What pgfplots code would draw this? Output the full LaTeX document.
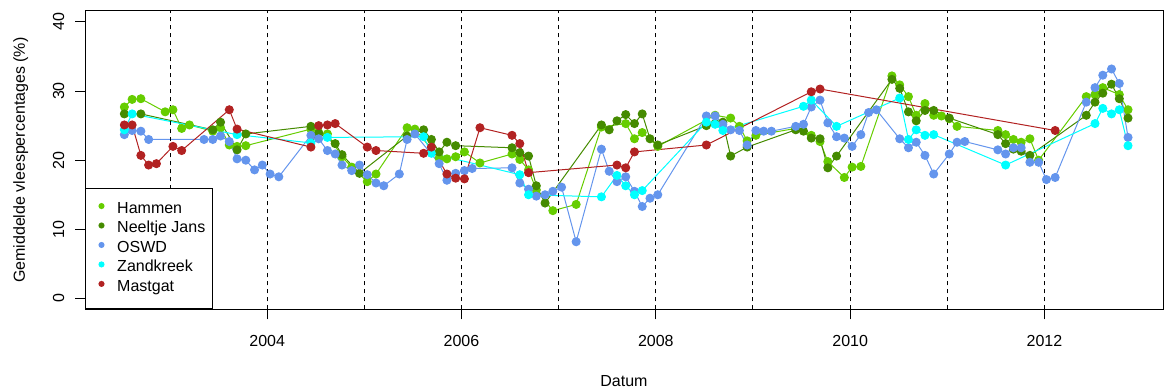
\documentclass[border=0pt]{standalone}
\usepackage{fontspec}
\setmainfont{Liberation Sans}
\usepackage{pgfplots}
\pgfplotsset{compat=1.18}
\definecolor{hammen}{RGB}{102,205,0}
\definecolor{neeltje}{RGB}{69,139,0}
\definecolor{oswd}{RGB}{100,149,237}
\definecolor{zandkreek}{RGB}{0,255,255}
\definecolor{mastgat}{RGB}{178,34,34}
\pgfplotsset{dotlegend/.style={legend image code/.code={%
  \path[draw=none, fill=none] (-6.5pt,0pt) -- (2.3pt,0pt);
  \fill[##1, draw=none] (0pt,2.8pt) circle[radius=2.3pt];}}}
\begin{document}
\fontsize{12}{14.4}\selectfont
\begin{tikzpicture}
\begin{axis}[
  at={(0,0)}, anchor=south west,
  scale only axis, width=808.5pt, height=223.9pt,
  xmin=2002.125, xmax=2013.22, ymin=-1.6, ymax=41.6,
  xtick={2004,2006,2008,2010,2012},
  xticklabels={2004,2006,2008,2010,2012},
  ytick={0,10,20,30,40},
  yticklabels={},
  xtick pos=bottom, ytick pos=left, tick align=outside,
  major tick length=7.5pt,
  tick style={black, line width=0.75pt},
  axis line style={black, line width=0.75pt},
  /pgf/number format/assume math mode=true,
  ticklabel style={font=\fontsize{12}{14.4}\selectfont},
  xticklabel style={anchor=base, inner sep=0pt, yshift=-20.1pt},
  legend cell align=left,
  legend style={at={(0,0)}, anchor=south west, draw=black, line width=0.75pt,
    fill=white, inner xsep=5.5pt, inner ysep=8.7pt, row sep=0pt,
    font=\fontsize{12}{14.4}\selectfont,
    nodes={inner sep=0pt, text height=10pt, text depth=4.6pt},
    /tikz/every odd column/.append style={column sep=9.5pt}},
  dotlegend,
  every axis plot/.append style={line width=0.75pt, mark=*, mark size=3pt},
]
\addplot[color=hammen, dotlegend] table {
2002.53 27.7
2002.61 28.8
2002.70 28.9
2002.95 27.0
2003.03 27.3
2003.12 24.6
2003.20 25.1
2003.44 24.2
2003.52 24.7
2003.61 22.2
2003.69 22.0
2003.78 22.1
2004.45 24.5
2004.53 24.0
2004.62 23.8
2004.77 20.5
2004.87 19.0
2005.03 16.9
2005.12 18.0
2005.44 24.7
2005.52 24.5
2005.77 20.3
2005.85 20.2
2005.94 20.5
2006.03 21.2
2006.19 19.6
2006.52 20.9
2006.60 20.1
2006.69 18.6
2006.77 15.7
2006.94 12.7
2007.18 13.6
2007.44 24.8
2007.69 25.3
2007.78 23.1
2007.86 24.0
2008.02 22.0
2008.61 26.5
2008.77 26.1
2008.86 24.9
2008.94 22.8
2009.03 23.6
2009.44 24.6
2009.60 23.6
2009.69 22.7
2009.77 19.8
2009.94 17.5
2010.02 19.0
2010.11 19.1
2010.43 32.2
2010.51 30.9
2010.60 29.2
2010.68 26.5
2010.77 28.2
2010.86 26.5
2010.94 26.4
2011.02 26.0
2011.10 24.9
2011.52 24.3
2011.60 23.7
2011.68 23.0
2011.76 22.6
2011.85 23.1
2011.94 20.0
2012.43 29.2
2012.52 29.5
2012.60 30.5
2012.77 29.5
2012.86 27.3
};
\addlegendentry{Hammen}
\addplot[color=neeltje, dotlegend] table {
2002.53 26.7
2002.70 26.7
2003.44 24.4
2003.52 25.5
2003.69 21.5
2003.78 23.8
2004.45 24.9
2004.53 23.9
2004.70 22.4
2004.77 20.8
2004.95 18.1
2005.44 23.5
2005.61 24.4
2005.69 23.0
2005.77 21.2
2005.85 22.6
2005.94 22.1
2006.52 21.8
2006.60 21.1
2006.69 20.6
2006.77 16.3
2006.86 13.8
2007.44 25.1
2007.52 24.4
2007.60 25.7
2007.69 26.6
2007.78 25.3
2007.86 26.7
2007.94 23.1
2008.02 22.2
2008.52 25.0
2008.61 25.3
2008.69 25.5
2008.77 20.6
2008.94 21.9
2009.44 24.4
2009.52 24.2
2009.60 23.2
2009.69 23.1
2009.77 18.9
2009.86 20.6
2010.43 31.7
2010.51 30.4
2010.60 27.0
2010.68 25.7
2010.77 27.2
2010.86 27.2
2011.02 26.1
2011.52 23.7
2011.60 22.4
2011.68 21.6
2011.76 21.3
2011.85 20.7
2012.43 26.5
2012.52 28.4
2012.60 29.7
2012.69 31.0
2012.77 28.9
2012.86 26.1
};
\addlegendentry{Neeltje Jans}
\addplot[color=oswd, dotlegend] table {
2002.53 23.7
2002.61 24.3
2002.70 24.2
2002.78 23.0
2003.35 23.0
2003.44 23.0
2003.52 23.5
2003.61 22.7
2003.69 20.2
2003.78 20.0
2003.87 18.6
2003.95 19.3
2004.03 18.0
2004.12 17.6
2004.45 23.6
2004.53 23.1
2004.62 21.4
2004.70 20.9
2004.77 19.3
2004.87 18.5
2004.95 19.3
2005.03 17.9
2005.12 16.7
2005.20 16.3
2005.36 18.0
2005.44 23.0
2005.52 23.8
2005.77 19.5
2005.85 17.1
2005.94 18.1
2006.03 18.5
2006.11 18.8
2006.52 18.9
2006.60 16.7
2006.69 15.8
2006.77 14.8
2006.86 15.0
2006.94 15.5
2007.03 16.1
2007.18 8.2
2007.44 21.6
2007.52 18.4
2007.60 16.9
2007.69 17.6
2007.78 15.5
2007.86 13.3
2007.94 14.5
2008.02 15.0
2008.52 26.4
2008.61 26.4
2008.69 25.2
2008.77 24.4
2008.86 24.3
2008.94 22.2
2009.03 24.3
2009.11 24.2
2009.19 24.2
2009.44 24.9
2009.52 25.2
2009.60 27.7
2009.69 28.7
2009.77 25.4
2009.86 23.4
2009.94 23.2
2010.02 22.0
2010.11 23.7
2010.19 26.9
2010.27 27.3
2010.51 23.1
2010.60 21.8
2010.68 22.6
2010.77 20.7
2010.86 18.0
2011.02 20.9
2011.10 22.6
2011.18 22.7
2011.52 21.5
2011.60 20.9
2011.68 21.8
2011.76 21.8
2011.85 19.7
2011.94 19.7
2012.02 17.2
2012.11 17.5
2012.43 28.4
2012.52 30.5
2012.60 32.3
2012.69 33.2
2012.77 31.1
2012.86 23.3
};
\addlegendentry{OSWD}
\addplot[color=zandkreek, dotlegend] table {
2002.53 24.4
2002.61 26.7
2003.69 23.7
2004.45 22.5
2004.62 23.3
2005.61 23.4
2005.69 21.0
2006.60 17.9
2006.69 15.0
2007.44 14.7
2007.60 17.8
2007.69 16.3
2007.78 15.0
2007.86 15.6
2008.52 25.5
2008.61 25.2
2008.69 24.3
2009.52 27.8
2009.60 28.7
2009.86 24.9
2010.51 29.0
2010.60 23.0
2010.68 24.4
2010.77 23.6
2010.86 23.7
2011.60 19.3
2012.52 25.3
2012.60 27.5
2012.69 26.7
2012.77 27.3
2012.86 22.1
};
\addlegendentry{Zandkreek}
\addplot[color=mastgat, dotlegend] table {
2002.53 25.1
2002.61 25.1
2002.70 20.7
2002.78 19.3
2002.86 19.5
2003.03 22.0
2003.12 21.4
2003.61 27.3
2003.69 24.5
2004.45 21.9
2004.53 25.0
2004.62 25.1
2004.70 25.3
2005.03 21.9
2005.12 21.4
2005.61 21.0
2005.69 21.9
2005.85 18.0
2005.94 17.4
2006.03 17.3
2006.19 24.7
2006.52 23.6
2006.60 22.4
2006.69 18.2
2007.60 19.3
2007.69 18.9
2007.78 21.2
2008.52 22.2
2009.60 29.9
2009.69 30.3
2012.11 24.3
};
\addlegendentry{Mastgat}
\pgfplotsinvokeforeach{2003,2004,2005,2006,2007,2008,2009,2010,2011,2012}{
  \draw[black, line width=0.75pt, dash pattern=on 3.5pt off 2.5pt]
    (axis cs:#1,-1.6) -- (axis cs:#1,41.6);
}
\end{axis}
\foreach \v/\y in {0/8.29,10/60.12,20/111.95,30/163.78,40/215.61}{
  \node[rotate=90, anchor=base, inner sep=0pt] at (-15.75pt,\y pt) {\v};
}
\node[rotate=90, anchor=base] at (-45pt,111.95pt) {Gemiddelde vleespercentages (\%)};
\node[anchor=base] at (404.25pt,-58pt) {Datum};
\pgfresetboundingbox
\path (-63.75pt,-60.4pt) rectangle (810.75pt,232.1pt);
\end{tikzpicture}
\end{document}
